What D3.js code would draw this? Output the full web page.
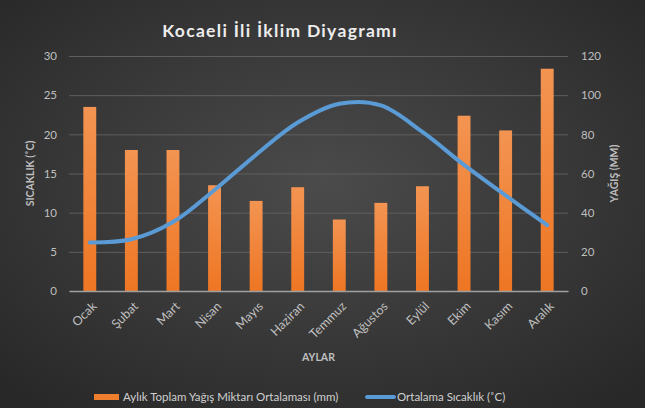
<!DOCTYPE html>
<html>
<head>
<meta charset="utf-8">
<script src="https://cdn.jsdelivr.net/npm/d3@7"></script>
<style>
  body { margin: 0; background: #333; }
  svg { display: block; font-family: Lato, "Open Sans", sans-serif; }
</style>
</head>
<body>
<div id="chart"></div>
<script>
// Chart data
var months = ["Ocak", "Şubat", "Mart", "Nisan", "Mayıs", "Haziran", "Temmuz", "Ağustos", "Eylül", "Ekim", "Kasım", "Aralık"];
var rainfall = [94, 72, 72, 54, 46, 53, 36.5, 45, 53.5, 89.5, 82, 113.5];
var temperature = [6.2, 6.6, 8.8, 12.9, 17.4, 21.5, 23.9, 23.7, 20.3, 16.1, 12.2, 8.4];
var tempTicks = [0, 5, 10, 15, 20, 25, 30];
var rainTicks = [0, 20, 40, 60, 80, 100, 120];

var svgWidth = 645;
var svgHeight = 408;

var chartMargin = { top: 56, right: 77, bottom: 117, left: 69 };
var chartWidth = svgWidth - chartMargin.left - chartMargin.right;
var chartHeight = svgHeight - chartMargin.top - chartMargin.bottom;

var svg = d3.select("#chart")
  .append("svg")
  .attr("width", svgWidth)
  .attr("height", svgHeight);

var defs = svg.append("defs");

// dark background with lighter centre
var bg = defs.append("radialGradient").attr("id", "bgGrad")
  .attr("cx", "50%").attr("cy", "45%").attr("r", "70%");
bg.append("stop").attr("offset", "0%").attr("stop-color", "#4b4b4b");
bg.append("stop").attr("offset", "100%").attr("stop-color", "#282828");

var barGrad = defs.append("linearGradient").attr("id", "barGrad")
  .attr("x1", 0).attr("y1", 0).attr("x2", 0).attr("y2", 1);
barGrad.append("stop").attr("offset", "0%").attr("stop-color", "#f39452");
barGrad.append("stop").attr("offset", "100%").attr("stop-color", "#ee7623");

svg.append("rect")
  .attr("width", svgWidth)
  .attr("height", svgHeight)
  .attr("fill", "url(#bgGrad)");

// title
svg.append("text")
  .attr("x", 280)
  .attr("y", 37)
  .attr("text-anchor", "middle")
  .style("font-size", "17.5px")
  .style("font-weight", "bold")
  .style("letter-spacing", "1.3px")
  .style("fill", "#ededed")
  .text("Kocaeli İli İklim Diyagramı");

var chartGroup = svg.append("g")
  .attr("transform", `translate(${chartMargin.left}, ${chartMargin.top})`);

// scales
var xBandScale = d3.scaleBand()
  .domain(months)
  .range([0, chartWidth])
  .paddingInner(0.69)
  .paddingOuter(0.345);

var xPointScale = d3.scalePoint()
  .domain(months)
  .range([0, chartWidth])
  .padding(0.5);

var yTempScale = d3.scaleLinear().domain([0, 30]).range([chartHeight, 0]);
var yRainScale = d3.scaleLinear().domain([0, 120]).range([chartHeight, 0]);

// gridlines
chartGroup.append("g")
  .call(d3.axisLeft(yTempScale).tickValues(tempTicks.slice(1)).tickSize(-chartWidth).tickFormat(""))
  .call(g => g.select(".domain").remove())
  .selectAll("line")
  .attr("stroke", "#5f5f5f")
  .attr("stroke-width", 1);

// left axis labels
var leftAxis = chartGroup.append("g")
  .call(d3.axisLeft(yTempScale).tickValues(tempTicks).tickSize(0).tickPadding(12));
leftAxis.select(".domain").remove();
leftAxis.selectAll("text")
  .style("font-size", "11.5px")
  .style("font-family", "Lato, 'Open Sans', sans-serif")
  .style("fill", "#bfbfbf");

// right axis labels
var rightAxis = chartGroup.append("g")
  .attr("transform", `translate(${chartWidth}, 0)`)
  .call(d3.axisRight(yRainScale).tickValues(rainTicks).tickSize(0).tickPadding(13));
rightAxis.select(".domain").remove();
rightAxis.selectAll("text")
  .style("font-size", "11.5px")
  .style("font-family", "Lato, 'Open Sans', sans-serif")
  .style("fill", "#bfbfbf");

// bars
chartGroup.selectAll(".bar")
  .data(rainfall)
  .enter()
  .append("rect")
  .classed("bar", true)
  .attr("x", (d, i) => xBandScale(months[i]))
  .attr("y", d => yRainScale(d))
  .attr("width", xBandScale.bandwidth())
  .attr("height", d => chartHeight - yRainScale(d))
  .attr("fill", "url(#barGrad)");

// x axis
var xAxis = chartGroup.append("g")
  .attr("transform", `translate(0, ${chartHeight})`)
  .call(d3.axisBottom(xPointScale).tickSize(0));
xAxis.select(".domain")
  .attr("stroke", "#a0a0a0")
  .attr("stroke-width", 1.5);
xAxis.selectAll("text")
  .style("font-size", "12.5px")
  .style("font-family", "Lato, 'Open Sans', sans-serif")
  .style("fill", "#bfbfbf")
  .attr("text-anchor", "end")
  .attr("x", 0)
  .attr("y", 0)
  .attr("dy", "0.35em")
  .attr("transform", "translate(4, 13) rotate(-45)");

// temperature line
var line = d3.line()
  .x((d, i) => xPointScale(months[i]))
  .y(d => yTempScale(d))
  .curve(d3.curveCatmullRom.alpha(0.5));

chartGroup.append("path")
  .datum(temperature)
  .attr("d", line)
  .attr("fill", "none")
  .attr("stroke", "#5b9bd5")
  .attr("stroke-width", 4)
  .attr("stroke-linecap", "round");

// axis titles
chartGroup.append("text")
  .attr("transform", "rotate(-90)")
  .attr("x", -chartHeight / 2)
  .attr("y", -35)
  .attr("text-anchor", "middle")
  .style("font-size", "10.5px")
  .style("font-weight", "bold")
  .style("fill", "#bfbfbf")
  .text("SICAKLIK (˚C)");

chartGroup.append("text")
  .attr("transform", "rotate(-90)")
  .attr("x", -chartHeight / 2)
  .attr("y", chartWidth + 50)
  .attr("text-anchor", "middle")
  .style("font-size", "10.5px")
  .style("font-weight", "bold")
  .style("fill", "#bfbfbf")
  .text("YAĞIŞ (MM)");

chartGroup.append("text")
  .attr("x", chartWidth / 2)
  .attr("y", chartHeight + 70)
  .attr("text-anchor", "middle")
  .style("font-size", "10.5px")
  .style("font-weight", "bold")
  .style("fill", "#bfbfbf")
  .text("AYLAR");

// legend
var legend = svg.append("g");
legend.append("rect")
  .attr("x", 94).attr("y", 394)
  .attr("width", 25).attr("height", 6)
  .attr("fill", "#ef7d2e");
legend.append("text")
  .attr("x", 123).attr("y", 401)
  .style("font-size", "11.5px")
  .style("fill", "#d0d0d0")
  .text("Aylık Toplam Yağış Miktarı Ortalaması (mm)");
legend.append("line")
  .attr("x1", 367).attr("x2", 394)
  .attr("y1", 397).attr("y2", 397)
  .attr("stroke", "#5b9bd5")
  .attr("stroke-width", 4)
  .attr("stroke-linecap", "round");
legend.append("text")
  .attr("x", 397).attr("y", 401)
  .style("font-size", "11.5px")
  .style("fill", "#d0d0d0")
  .text("Ortalama Sıcaklık (˚C)");
</script>
</body>
</html>
